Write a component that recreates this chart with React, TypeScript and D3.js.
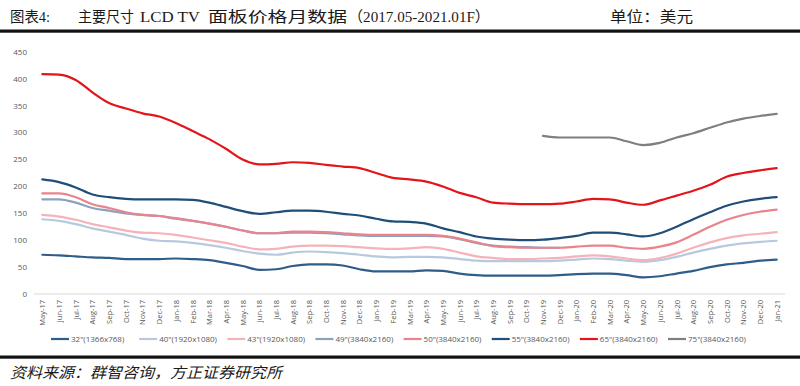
import * as d3 from "d3";

const months = [
  "May-17", "Jun-17", "Jul-17", "Aug-17", "Sep-17", "Oct-17", "Nov-17", "Dec-17",
  "Jan-18", "Feb-18", "Mar-18", "Apr-18", "May-18", "Jun-18", "Jul-18", "Aug-18",
  "Sep-18", "Oct-18", "Nov-18", "Dec-18", "Jan-19", "Feb-19", "Mar-19", "Apr-19",
  "May-19", "Jun-19", "Jul-19", "Aug-19", "Sep-19", "Oct-19", "Nov-19", "Dec-19",
  "Jan-20", "Feb-20", "Mar-20", "Apr-20", "May-20", "Jun-20", "Jul-20", "Aug-20",
  "Sep-20", "Oct-20", "Nov-20", "Dec-20", "Jan-21",
];

const yTicks = [0, 50, 100, 150, 200, 250, 300, 350, 400, 450];

// values in USD, null = no data
const tv32 = [73, 72, 70, 68, 67, 65, 65, 65, 66, 65, 63, 58, 52, 45, 46, 52, 55, 55, 53, 46, 42, 42, 42, 44, 43, 38, 35, 34, 34, 34, 34, 35, 37, 38, 38, 35, 31, 33, 38, 43, 50, 55, 58, 62, 64];
const tv40 = [139, 136, 130, 122, 116, 110, 103, 99, 98, 95, 91, 86, 80, 75, 73, 77, 79, 78, 76, 73, 70, 68, 69, 69, 68, 65, 62, 61, 61, 61, 61, 62, 64, 66, 65, 62, 60, 63, 69, 77, 84, 90, 94, 97, 99];
const tv43 = [147, 144, 138, 130, 124, 118, 114, 113, 110, 105, 100, 95, 88, 83, 84, 88, 90, 90, 89, 87, 85, 84, 85, 87, 84, 77, 70, 67, 65, 65, 66, 67, 70, 72, 70, 66, 63, 67, 75, 86, 96, 104, 109, 112, 115];
const tv49 = [176, 176, 170, 160, 155, 150, 147, 145, 140, 136, 131, 125, 118, 113, 113, 114, 114, 113, 111, 109, 108, 108, 108, 108, 107, 102, 95, 90, 88, 87, 86, 86, null, null, null, null, null, null, null, null, null, null, null, null, null];
const tv50 = [187, 187, 180, 167, 160, 152, 147, 145, 141, 136, 131, 125, 118, 113, 113, 116, 116, 115, 113, 111, 110, 110, 110, 110, 108, 103, 96, 89, 87, 86, 86, 86, 88, 90, 90, 86, 84, 88, 96, 110, 125, 138, 147, 153, 157];
const tv55 = [213, 208, 198, 185, 180, 177, 176, 176, 176, 175, 170, 162, 154, 149, 152, 155, 155, 153, 149, 146, 140, 135, 134, 131, 122, 115, 107, 103, 101, 100, 101, 104, 108, 114, 114, 111, 107, 113, 125, 139, 152, 164, 172, 177, 180];
const tv65 = [409, 408, 398, 375, 355, 345, 336, 330, 318, 303, 288, 270, 250, 241, 242, 245, 244, 240, 237, 234, 225, 216, 213, 209, 200, 188, 180, 170, 168, 167, 167, 168, 172, 177, 176, 170, 166, 174, 183, 192, 203, 218, 225, 230, 234];
const tv75 = [null, null, null, null, null, null, null, null, null, null, null, null, null, null, null, null, null, null, null, null, null, null, null, null, null, null, null, null, null, null, 294, 291, 291, 291, 291, 284, 277, 281, 291, 299, 309, 319, 326, 331, 335];

const seriesNames = [
  "32\"(1366x768)", "40\"(1920x1080)", "43\"(1920x1080)", "49\"(3840x2160)",
  "50\"(3840x2160)", "55\"(3840x2160)", "65\"(3840x2160)", "75\"(3840x2160)",
];
const seriesValues = [tv32, tv40, tv43, tv49, tv50, tv55, tv65, tv75];
const colors = ["#2F5D8A", "#B7C9DF", "#F5B3B9", "#8AA2C0", "#E9838C", "#1F4E79", "#E3151B", "#7F7F7F"];

const W = 800;
const H = 386;
const plot = { left: 34, right: 785, top: 52, bottom: 294 };
const axisFont = "'Open Sans', 'Liberation Sans', sans-serif";
const cjkFont = "'Liberation Serif', 'Noto Sans CJK SC', serif";

// title pieces: [text, start x, width]
const titleParts: [string, number, number][] = [
  ["图表4:", 10, 40],
  ["主要尺寸", 78, 56],
  ["LCD TV", 140, 60],
  ["面板价格月数据", 208, 139],
  ["（2017.05-2021.01F）", 348, 142],
  ["单位：美元", 610, 83],
];

export default function App() {
  const x = d3.scaleBand().domain(months).range([plot.left, plot.right]);
  const xc = (m: string) => (x(m) as number) + x.bandwidth() / 2;
  const y = d3.scaleLinear().domain([0, 450]).range([plot.bottom, plot.top]);

  const line = d3
    .line<number | null>()
    .defined((d) => d != null)
    .x((_, i) => xc(months[i]))
    .y((d) => y(d as number))
    .curve(d3.curveMonotoneX);

  // legend placement
  const legendX = d3.scalePoint<number>().domain(d3.range(8)).range([51, 668]);
  const legendY = 339;

  return (
    <div style={{ position: "absolute", left: 0, top: 0 }}>
      <svg width={W} height={H} style={{ display: "block", background: "#fff" }}>
        {/* title */}
        {titleParts.map(([t, tx, tw]) => (
          <text
            key={t}
            x={tx}
            y={21.5}
            fontSize={15}
            fontFamily={cjkFont}
            fill="#1a1a1a"
            textLength={tw}
            lengthAdjust="spacingAndGlyphs"
          >
            {t}
          </text>
        ))}
        <rect x={0} y={29.5} width={W} height={3.2} fill="#111" />

        {/* y ticks */}
        {yTicks.map((t) => (
          <text
            key={t}
            x={27}
            y={y(t)}
            dy="0.35em"
            textAnchor="end"
            fontSize={8}
            fontFamily={axisFont}
            fill="#595959"
          >
            {t}
          </text>
        ))}

        {/* x axis */}
        <line x1={plot.left} x2={plot.right} y1={plot.bottom} y2={plot.bottom} stroke="#D9D9D9" strokeWidth={1} />
        {months.map((m) => (
          <text
            key={m}
            transform={`translate(${xc(m) + 3},${plot.bottom + 6}) rotate(-90)`}
            textAnchor="end"
            fontSize={7.5}
            fontFamily={axisFont}
            fill="#595959"
          >
            {m}
          </text>
        ))}

        {/* lines */}
        {seriesValues.map((vals, k) => (
          <path
            key={k}
            d={line(vals) || ""}
            fill="none"
            stroke={colors[k]}
            strokeWidth={2.2}
            strokeLinejoin="round"
            strokeLinecap="round"
          />
        ))}

        {/* legend */}
        {seriesNames.map((n, i) => (
          <g key={n} transform={`translate(${legendX(i)},${legendY})`}>
            <line x1={0} x2={18} y1={0} y2={0} stroke={colors[i]} strokeWidth={2.2} />
            <text x={20} y={0} dy="0.35em" fontSize={8} fontFamily={axisFont} fill="#595959">
              {n}
            </text>
          </g>
        ))}

        {/* footer */}
        <rect x={0} y={355.5} width={W} height={3.2} fill="#111" />
        <text
          x={10}
          y={378}
          fontSize={15}
          fontFamily={cjkFont}
          fontStyle="italic"
          fill="#1a1a1a"
          textLength={272}
          lengthAdjust="spacingAndGlyphs"
        >
          资料来源：群智咨询，方正证券研究所
        </text>
      </svg>
    </div>
  );
}
